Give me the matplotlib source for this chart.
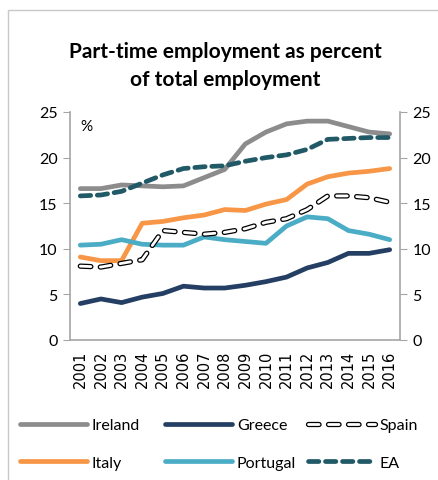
import numpy as np
import matplotlib.pyplot as plt
from matplotlib import patheffects as pe
from matplotlib.patches import Rectangle

plt.rcParams['font.family'] = ['Lato', 'DejaVu Sans']

years = [str(y) for y in range(2001, 2017)]

ireland = [16.6, 16.6, 17.0, 16.9, 16.8, 16.9, 17.8, 18.7, 21.5, 22.8, 23.7, 24.0, 24.0, 23.4, 22.8, 22.6]
greece = [4.0, 4.5, 4.1, 4.7, 5.1, 5.9, 5.7, 5.7, 6.0, 6.4, 6.9, 7.9, 8.5, 9.5, 9.5, 9.9]
spain = [8.1, 8.0, 8.4, 8.8, 12.0, 11.8, 11.6, 11.8, 12.2, 12.9, 13.3, 14.3, 15.8, 15.8, 15.6, 15.1]
italy = [9.1, 8.7, 8.7, 12.8, 13.0, 13.4, 13.7, 14.3, 14.2, 14.9, 15.4, 17.1, 17.9, 18.3, 18.5, 18.8]
portugal = [10.4, 10.5, 11.0, 10.5, 10.4, 10.4, 11.3, 11.0, 10.8, 10.6, 12.5, 13.5, 13.3, 12.0, 11.6, 11.0]
ea = [15.8, 15.9, 16.3, 17.2, 18.1, 18.8, 19.0, 19.1, 19.6, 20.0, 20.3, 20.9, 22.0, 22.1, 22.2, 22.2]

grey_axis = '#a6a6a6'
lw = 3.4

fig = plt.figure(figsize=(4.39, 4.81), dpi=100)
ax = fig.add_axes([70 / 439, 1 - 341 / 481, 330 / 439, 228 / 481])

x = np.arange(len(years))
l_ire, = ax.plot(x, ireland, color='#8c8c8c', lw=lw, solid_capstyle='round', label='Ireland')
l_gre, = ax.plot(x, greece, color='#243f63', lw=lw, solid_capstyle='round', label='Greece')
l_ita, = ax.plot(x, italy, color='#f79646', lw=lw, solid_capstyle='round', label='Italy')
l_por, = ax.plot(x, portugal, color='#4bacc6', lw=lw, solid_capstyle='round', label='Portugal')
l_ea, = ax.plot(x, ea, color='#215967', lw=lw, dashes=(2.2, 1.4), dash_capstyle='round', label='EA')
# Spain: white dashes with a black outline
l_spa, = ax.plot(x, spain, color='white', lw=2.0, dashes=(3.8, 3.4), dash_capstyle='round',
                 path_effects=[pe.Stroke(linewidth=3.8, foreground='black'), pe.Normal()],
                 label='Spain')

ax.set_xlim(-0.5, len(years) - 0.5)
ax.set_ylim(0, 25)
ax.set_yticks(range(0, 26, 5))
ax.set_xticks(x)
ax.set_xticklabels(years, rotation=90, fontsize=10.5, family='DejaVu Sans')
ax.tick_params(axis='x', length=0, pad=7)
ax.tick_params(axis='y', length=5, color=grey_axis, labelsize=11.5, pad=4,
               left=True, right=True, labelleft=True, labelright=True)

for side in ['left', 'right', 'bottom']:
    ax.spines[side].set_color(grey_axis)
    ax.spines[side].set_linewidth(1.2)
ax.spines['top'].set_visible(False)

ax.text(0.03, 0.94, '%', transform=ax.transAxes, fontsize=11, ha='left', va='center')

fig.text(225 / 439, 1 - 66 / 481, 'Part-time employment as percent\nof total employment',
         ha='center', va='center', fontsize=15, fontweight='bold', linespacing=1.55)

# frame around the chart
fig.patches.append(Rectangle((8 / 439, -0.1), 1.2, 1.1 - 11 / 481, transform=fig.transFigure,
                             fill=False, edgecolor='#c8c8c8', lw=1.0))

# one legend per column, Excel-style fixed column positions
columns = [((20, 419), [l_ire, l_ita]), ((165, 419), [l_gre, l_por]), ((308, 419), [l_spa, l_ea])]
for (px, py), hs in columns:
    leg = fig.legend(hs, [h.get_label() for h in hs], loc='upper left',
                     bbox_to_anchor=(px / 439, 1 - py / 481), frameon=False, fontsize=11.5,
                     handlelength=4.2, handletextpad=0.3, labelspacing=1.45,
                     borderpad=0, borderaxespad=0)

fig.savefig('out.png', dpi=100)
